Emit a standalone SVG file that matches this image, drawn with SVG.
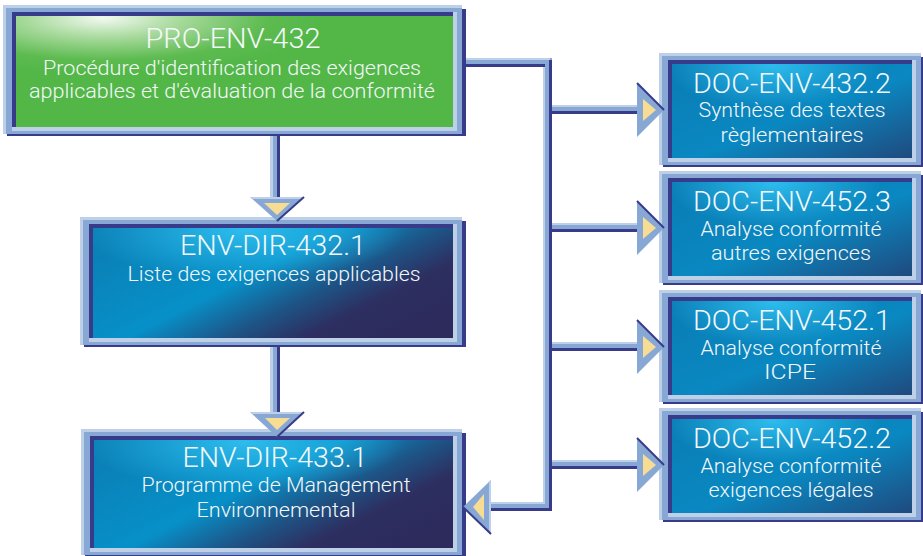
<svg xmlns="http://www.w3.org/2000/svg" width="923" height="556" viewBox="0 0 923 556">
<defs>
<radialGradient id="gGreen" cx="0.2" cy="0.02" r="0.5">
<stop offset="0" stop-color="#f2f9f0"/>
<stop offset="0.35" stop-color="#a8da9d"/>
<stop offset="0.75" stop-color="#5dbb50"/>
<stop offset="1" stop-color="#53b748"/>
</radialGradient>
<linearGradient id="gWide" x1="0" y1="0.2" x2="1" y2="0.8">
<stop offset="0" stop-color="#0a80b6"/>
<stop offset="0.42" stop-color="#0790c8"/>
<stop offset="0.62" stop-color="#1d5587"/>
<stop offset="0.78" stop-color="#2d2f61"/>
<stop offset="1" stop-color="#2d2a5c"/>
</linearGradient>
<linearGradient id="gDoc" x1="0" y1="0" x2="1" y2="1">
<stop offset="0" stop-color="#0a7cb4"/>
<stop offset="0.55" stop-color="#0a88c1"/>
<stop offset="1" stop-color="#1f4a7e"/>
</linearGradient>
<radialGradient id="gHi" cx="0.42" cy="0.02" r="0.45">
<stop offset="0" stop-color="#30c2f2" stop-opacity="0.9"/>
<stop offset="1" stop-color="#30c2f2" stop-opacity="0"/>
</radialGradient>
<style>
.fd{fill:#383b8a}
.fl{fill:#bdd0e7}
.fm{fill:#87a8d4}
.ye{fill:#f7dc94}
.t{fill:#f4f8fb;font-family:Roboto,"Liberation Sans",Arial,sans-serif;font-weight:300;text-anchor:middle}
.h{font-size:28px}
.s{font-size:19.5px}
.edge{stroke:#383b8a;stroke-width:2;fill:none}
</style>
</defs>

<g id="pro-env-432">
<rect class="fd" x="7" y="9" width="459" height="127"/>
<rect class="fl" x="3" y="5" width="459" height="129"/>
<rect class="fm" x="6" y="8" width="456" height="126"/>
<rect class="fl" x="12" y="12" width="445" height="119"/>
<rect class="fd" x="12" y="12" width="441" height="115"/>
<rect x="16" y="16" width="437" height="111" fill="url(#gGreen)"/>
<text class="t h" x="233" y="48" textLength="175" lengthAdjust="spacingAndGlyphs">PRO-ENV-432</text>
<text class="t s" x="232" y="75" textLength="378" lengthAdjust="spacingAndGlyphs">Procédure d'identification des exigences</text>
<text class="t s" x="232" y="98" textLength="406" lengthAdjust="spacingAndGlyphs">applicables et d'évaluation de la conformité</text>
</g>

<g id="env-dir-432-1">
<rect class="fd" x="84" y="221" width="382" height="126"/>
<rect class="fl" x="80" y="217" width="382" height="128"/>
<rect class="fm" x="83" y="220" width="379" height="125"/>
<rect class="fl" x="89" y="224" width="368" height="118"/>
<rect class="fd" x="89" y="224" width="364" height="114"/>
<rect x="93" y="228" width="360" height="110" fill="url(#gWide)"/>
<rect x="93" y="228" width="360" height="110" fill="url(#gHi)"/>
<text class="t h" x="273" y="255" textLength="186" lengthAdjust="spacingAndGlyphs">ENV-DIR-432.1</text>
<text class="t s" x="274" y="281" textLength="293" lengthAdjust="spacingAndGlyphs">Liste des exigences applicables</text>
</g>

<g id="env-dir-433-1">
<rect class="fd" x="85" y="433" width="381" height="124"/>
<rect class="fl" x="81" y="429" width="381" height="126"/>
<rect class="fm" x="84" y="432" width="378" height="123"/>
<rect class="fl" x="90" y="436" width="367" height="116"/>
<rect class="fd" x="90" y="436" width="363" height="112"/>
<rect x="94" y="440" width="359" height="108" fill="url(#gWide)"/>
<rect x="94" y="440" width="359" height="108" fill="url(#gHi)"/>
<text class="t h" x="275" y="467" textLength="185" lengthAdjust="spacingAndGlyphs">ENV-DIR-433.1</text>
<text class="t s" x="276" y="492" textLength="269" lengthAdjust="spacingAndGlyphs">Programme de Management</text>
<text class="t s" x="276" y="517" textLength="159" lengthAdjust="spacingAndGlyphs">Environnemental</text>
</g>

<g id="doc-env-432-2">
<rect class="fd" x="663" y="57" width="262" height="110"/>
<rect class="fl" x="659" y="53" width="262" height="112"/>
<rect class="fm" x="662" y="56" width="259" height="109"/>
<rect class="fl" x="668" y="60" width="248" height="102"/>
<rect class="fd" x="668" y="60" width="244" height="98"/>
<rect x="672" y="64" width="240" height="94" fill="url(#gDoc)"/>
<rect x="672" y="64" width="240" height="94" fill="url(#gHi)"/>
<text class="t h" x="792" y="93" textLength="198" lengthAdjust="spacingAndGlyphs">DOC-ENV-432.2</text>
<text class="t s" x="792" y="117" textLength="187" lengthAdjust="spacingAndGlyphs">Synthèse des textes</text>
<text class="t s" x="792" y="142" textLength="143" lengthAdjust="spacingAndGlyphs">règlementaires</text>
</g>

<g id="doc-env-452-3">
<rect class="fd" x="663" y="175" width="262" height="110"/>
<rect class="fl" x="659" y="171" width="262" height="112"/>
<rect class="fm" x="662" y="174" width="259" height="109"/>
<rect class="fl" x="668" y="178" width="248" height="102"/>
<rect class="fd" x="668" y="178" width="244" height="98"/>
<rect x="672" y="182" width="240" height="94" fill="url(#gDoc)"/>
<rect x="672" y="182" width="240" height="94" fill="url(#gHi)"/>
<text class="t h" x="792" y="211" textLength="198" lengthAdjust="spacingAndGlyphs">DOC-ENV-452.3</text>
<text class="t s" x="791" y="236" textLength="181" lengthAdjust="spacingAndGlyphs">Analyse conformité</text>
<text class="t s" x="791" y="260" textLength="160" lengthAdjust="spacingAndGlyphs">autres exigences</text>
</g>

<g id="doc-env-452-1">
<rect class="fd" x="663" y="294" width="262" height="110"/>
<rect class="fl" x="659" y="290" width="262" height="112"/>
<rect class="fm" x="662" y="293" width="259" height="109"/>
<rect class="fl" x="668" y="297" width="248" height="102"/>
<rect class="fd" x="668" y="297" width="244" height="98"/>
<rect x="672" y="301" width="240" height="94" fill="url(#gDoc)"/>
<rect x="672" y="301" width="240" height="94" fill="url(#gHi)"/>
<text class="t h" x="792" y="330" textLength="198" lengthAdjust="spacingAndGlyphs">DOC-ENV-452.1</text>
<text class="t s" x="791" y="355" textLength="181" lengthAdjust="spacingAndGlyphs">Analyse conformité</text>
<text class="t s" x="790" y="379" textLength="52" lengthAdjust="spacingAndGlyphs">ICPE</text>
</g>

<g id="doc-env-452-2">
<rect class="fd" x="663" y="412" width="262" height="110"/>
<rect class="fl" x="659" y="408" width="262" height="112"/>
<rect class="fm" x="662" y="411" width="259" height="109"/>
<rect class="fl" x="668" y="415" width="248" height="102"/>
<rect class="fd" x="668" y="415" width="244" height="98"/>
<rect x="672" y="419" width="240" height="94" fill="url(#gDoc)"/>
<rect x="672" y="419" width="240" height="94" fill="url(#gHi)"/>
<text class="t h" x="792" y="448" textLength="198" lengthAdjust="spacingAndGlyphs">DOC-ENV-452.2</text>
<text class="t s" x="791" y="473" textLength="181" lengthAdjust="spacingAndGlyphs">Analyse conformité</text>
<text class="t s" x="791" y="497" textLength="165" lengthAdjust="spacingAndGlyphs">exigences légales</text>
</g>

<g id="connectors">
<rect class="fm" x="270" y="136" width="10" height="64"/>
<rect class="fl" x="270" y="136" width="3" height="64"/>
<rect class="fd" x="277" y="136" width="3" height="64"/>
<polygon class="fm" points="250,197 304,197 277,221"/>
<polygon class="fl" points="250,197 304,197 302,199 253,199"/>
<line class="edge" x1="304" y1="197" x2="277" y2="221"/>
<polygon class="ye" points="264,203 290,203 277,215"/>

<rect class="fm" x="270" y="347" width="10" height="68"/>
<rect class="fl" x="270" y="347" width="3" height="68"/>
<rect class="fd" x="277" y="347" width="3" height="68"/>
<polygon class="fm" points="250,412 304,412 277,437"/>
<polygon class="fl" points="250,412 304,412 302,414 253,414"/>
<line class="edge" x1="304" y1="412" x2="277" y2="437"/>
<polygon class="ye" points="265,418 290,418 277,430"/>

<rect class="fm" x="466" y="58" width="86" height="9"/>
<rect class="fm" x="543" y="58" width="9" height="453"/>
<rect class="fm" x="491" y="502" width="61" height="9"/>
<rect class="fl" x="466" y="58" width="84" height="2"/>
<rect class="fl" x="543" y="64" width="2" height="438"/>
<rect class="fl" x="491" y="502" width="54" height="2"/>
<rect class="fd" x="466" y="64" width="79" height="3"/>
<rect class="fd" x="549" y="60" width="3" height="451"/>
<rect class="fd" x="491" y="508" width="61" height="3"/>

<polygon class="fm" points="491,480 491,534 463,507"/>
<polygon class="fl" points="491,480 489,483 489,530 491,534"/>
<line class="edge" x1="463" y1="507" x2="491" y2="534"/>
<polygon class="ye" points="484,494 484,520 473,507"/>

<rect class="fm" x="552" y="105" width="86" height="9"/>
<rect class="fl" x="552" y="105" width="86" height="2"/>
<rect class="fd" x="552" y="111" width="86" height="3"/>
<polygon class="fm" points="637,83 637,137 664,110"/>
<line class="edge" x1="637" y1="83" x2="664" y2="110"/>
<polygon class="ye" points="643,99 643,121 656,110"/>

<rect class="fm" x="552" y="223" width="86" height="9"/>
<rect class="fl" x="552" y="223" width="86" height="2"/>
<rect class="fd" x="552" y="229" width="86" height="3"/>
<polygon class="fm" points="637,201 637,255 664,228"/>
<line class="edge" x1="637" y1="201" x2="664" y2="228"/>
<polygon class="ye" points="643,217 643,239 656,228"/>

<rect class="fm" x="552" y="342" width="86" height="9"/>
<rect class="fl" x="552" y="342" width="86" height="2"/>
<rect class="fd" x="552" y="348" width="86" height="3"/>
<polygon class="fm" points="637,320 637,374 664,347"/>
<line class="edge" x1="637" y1="320" x2="664" y2="347"/>
<polygon class="ye" points="643,336 643,358 656,347"/>

<rect class="fm" x="552" y="460" width="86" height="9"/>
<rect class="fl" x="552" y="460" width="86" height="2"/>
<rect class="fd" x="552" y="466" width="86" height="3"/>
<polygon class="fm" points="637,438 637,492 664,465"/>
<line class="edge" x1="637" y1="438" x2="664" y2="465"/>
<polygon class="ye" points="643,454 643,476 656,465"/>
</g>
</svg>
